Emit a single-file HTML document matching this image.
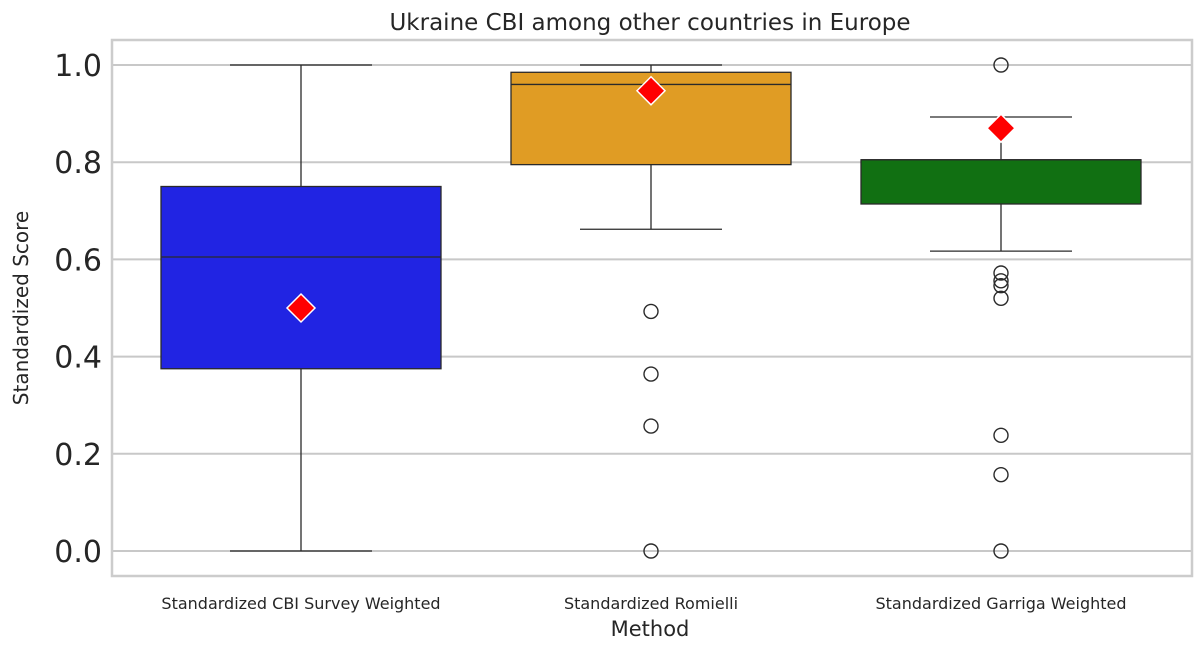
<!DOCTYPE html>
<html><head><meta charset="utf-8"><style>
body{margin:0;background:#fff;font-family:"DejaVu Sans","Liberation Sans",sans-serif}
</style></head><body>
<svg id="c" width="1200" height="652" xmlns="http://www.w3.org/2000/svg"></svg>
<script>
const categories=["Standardized CBI Survey Weighted","Standardized Romielli","Standardized Garriga Weighted"];
const colors=["#2124e3","#e09c24","#117012"];
const q1=[0.375,0.795,0.714];
const medians=[0.605,0.96,0.805];
const q3=[0.75,0.985,0.805];
const whiskLo=[0,0.662,0.617];
const whiskHi=[1,1,0.893];
const ukraine=[0.5,0.947,0.87];
const outliers=[[],[0.493,0.364,0.257,0],[1,0.572,0.556,0.546,0.52,0.238,0.157,0]];
const yTicks=[0,0.2,0.4,0.6,0.8,1.0];
const NS="http://www.w3.org/2000/svg";
const svg=document.getElementById('c');
const L=112,R=1192,T=40,B=576;
const y=v=>551-v*486;
const x=i=>301+350*i;
function el(t,a,p){const e=document.createElementNS(NS,t);for(const k in a)e.setAttribute(k,a[k]);(p||svg).appendChild(e);return e;}
let g=el('g',{});

yTicks.forEach(v=>{el('line',{x1:L,x2:R,y1:y(v),y2:y(v),stroke:'#c8c8c8','stroke-width':2},g);
 const t=el('text',{x:L-10,y:y(v)+11,'text-anchor':'end','font-size':30,fill:'#262626'});t.textContent=v.toFixed(1);
 });
const fr=el('rect',{x:L,y:T,width:R-L,height:B-T,fill:'none',stroke:'#cccccc','stroke-width':2.5});

categories.forEach((c,i)=>{
 const cx=x(i),hw=140,cw=71;
 const bg=el('g',{});
 const s={stroke:'#2a2a2a','stroke-width':1.3};
 el('line',{x1:cx,x2:cx,y1:y(whiskHi[i]),y2:y(q3[i]),...s},bg);
 el('line',{x1:cx,x2:cx,y1:y(q1[i]),y2:y(whiskLo[i]),...s},bg);
 el('line',{x1:cx-cw,x2:cx+cw,y1:y(whiskHi[i]),y2:y(whiskHi[i]),...s},bg);
 el('line',{x1:cx-cw,x2:cx+cw,y1:y(whiskLo[i]),y2:y(whiskLo[i]),...s},bg);
 el('rect',{x:cx-hw,y:y(q3[i]),width:2*hw,height:y(q1[i])-y(q3[i]),fill:colors[i],...s},bg);
 el('line',{x1:cx-hw,x2:cx+hw,y1:y(medians[i]),y2:y(medians[i]),...s},bg);
 outliers[i].forEach(v=>{const o=el('circle',{cx:cx,cy:y(v),r:7,fill:'none',stroke:'#2a2a2a','stroke-width':1.4},bg);
  });
 const d=14,dy=y(ukraine[i]);
 const dm=el('polygon',{points:`${cx},${dy-d} ${cx+d},${dy} ${cx},${dy+d} ${cx-d},${dy}`,fill:'#ff0000',stroke:'#fff','stroke-width':1.5},bg);
 
 const t=el('text',{x:cx,y:609,'text-anchor':'middle','font-size':16,fill:'#262626'});t.textContent=c;
 
});
let t=el('text',{x:650,y:30,'text-anchor':'middle','font-size':23,fill:'#262626'});t.textContent="Ukraine CBI among other countries in Europe";

t=el('text',{x:650,y:636,'text-anchor':'middle','font-size':21,fill:'#262626'});t.textContent="Method";

t=el('text',{x:28,y:308,'text-anchor':'middle','font-size':20,fill:'#262626',transform:'rotate(-90 28 308)'});t.textContent="Standardized Score";

</script>
</body></html>
